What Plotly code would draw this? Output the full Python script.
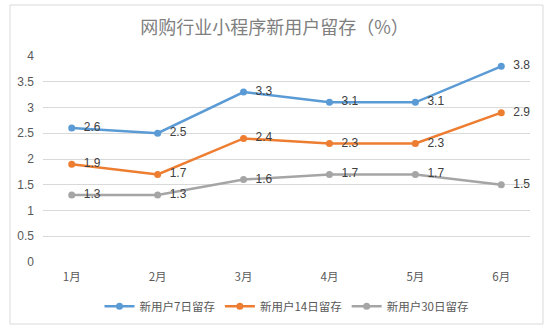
import plotly.graph_objects as go

months = ["1月", "2月", "3月", "4月", "5月", "6月"]
d7 = [2.6, 2.5, 3.3, 3.1, 3.1, 3.8]
d14 = [1.9, 1.7, 2.4, 2.3, 2.3, 2.9]
d30 = [1.3, 1.3, 1.6, 1.7, 1.7, 1.5]
names = ["新用户7日留存", "新用户14日留存", "新用户30日留存"]
colors = ["#5B9BD5", "#ED7D31", "#A5A5A5"]
y_ticks = [0, 0.5, 1, 1.5, 2, 2.5, 3, 3.5, 4]

FONT = "Noto Sans CJK SC, Liberation Sans, sans-serif"

fig = go.Figure()
for name, vals, c in zip(names, [d7, d14, d30], colors):
    fig.add_trace(go.Scatter(
        x=months, y=vals, name=name, mode="lines+markers+text",
        line=dict(color=c, width=2.5), marker=dict(color=c, size=7),
        text=[str(v) for v in vals], texttemplate="  %{text}",
        textposition="middle right",
        textfont=dict(size=12, color="#404040", family="Liberation Sans, sans-serif"),
    ))

fig.update_layout(
    width=549, height=333,
    margin=dict(l=43, r=19, t=56, b=71),
    paper_bgcolor="white", plot_bgcolor="white",
    font=dict(family=FONT, color="#595959", size=11),
    title=dict(text="网购行业小程序新用户留存（%）", x=0.5, xanchor="center",
               y=1 - 28 / 333, yanchor="middle",
               font=dict(size=18, color="#808080", family=FONT)),
    showlegend=True,
    legend=dict(orientation="h", x=0.5, xanchor="center", y=-0.215, yanchor="middle",
                font=dict(size=11.5, color="#595959", family=FONT),
                itemwidth=30, tracegroupgap=0),
    xaxis=dict(showgrid=False, showline=False, ticks="", tickfont=dict(size=11.5),
               zeroline=False, ticklabelstandoff=6),
    yaxis=dict(range=[0, 4], tickvals=y_ticks, ticktext=[str(t) for t in y_ticks],
               showgrid=True, gridcolor="#D9D9D9", gridwidth=1, zeroline=False,
               showline=False, tickfont=dict(size=12, family="Liberation Sans, sans-serif"),
               ticks="", ticklabelstandoff=8),
)
fig.add_shape(type="rect", xref="paper", yref="paper",
              x0=(10 - 43) / 487, x1=(543 - 43) / 487,
              y0=(262 - 324) / 206, y1=(262 - 5) / 206,
              line=dict(color="#D9D9D9", width=1), layer="below")

fig.write_html("out.html")
